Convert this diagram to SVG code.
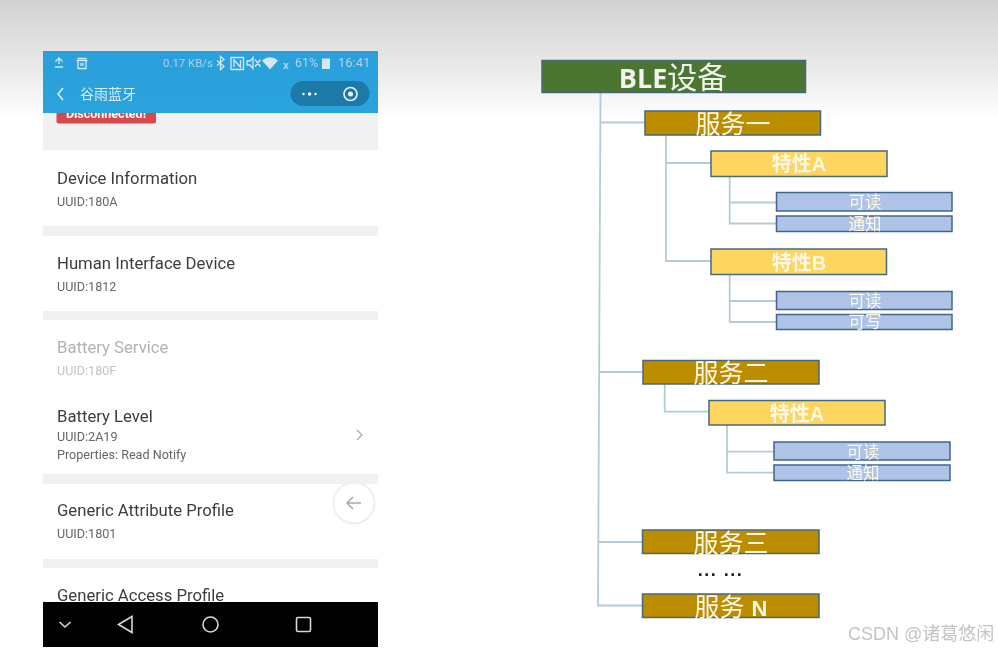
<svg xmlns="http://www.w3.org/2000/svg" width="998" height="651" viewBox="0 0 998 651">
<style>
text{font-family:"Roboto","Noto Sans CJK SC",sans-serif}
.t{font-size:16.7px;fill:#3d3d3d}
.s{font-size:12.6px;fill:#666}
.band{fill:#f1f1f1}
.st{font-size:11.4px;fill:#a9d4ee}
.ic{fill:none;stroke:#d3e8f5;stroke-width:1.3}
.nav{fill:none;stroke:#d8d8d8;stroke-width:1.6}
.c{fill:none;stroke:#b4cbd6;stroke-width:1.8}
.box{stroke:#44697f;stroke-width:1.5}
.root{fill:#4d7430}
.svc{fill:#bd8d00}
.chr{fill:#fdd55f}
.prop{fill:#aec3e6;stroke:#3f6690}
.l{text-anchor:middle;fill:#fdf8e6;font-family:"Liberation Sans","Noto Sans CJK SC",sans-serif}
.l1{font-size:25px}
.l2{font-size:20px;font-weight:bold}
.l3{font-size:16.5px}
</style>
<defs>
<linearGradient id="top" x1="0" y1="0" x2="0" y2="1"><stop offset="0" stop-color="#d2d2d2"/><stop offset="0.55" stop-color="#e9e9e9"/><stop offset="1" stop-color="#ffffff"/></linearGradient>
<linearGradient id="hdr" x1="0" y1="0" x2="0" y2="1"><stop offset="0" stop-color="#2d9fdb"/><stop offset="1" stop-color="#29a3dc"/></linearGradient>
<filter id="soft" x="-2%" y="-2%" width="104%" height="104%"><feGaussianBlur stdDeviation="0.45"/></filter>
</defs>
<rect width="998" height="651" fill="#fff"/>
<rect width="998" height="120" fill="url(#top)"/>
<g id="phone" filter="url(#soft)">
<rect x="43" y="51" width="335" height="596" fill="#fff"/>
<rect class="band" x="43" y="113" width="335" height="37"/>
<rect x="56.500" y="100" width="99.500" height="23.500" rx="2" fill="#d9484c"/>
<text x="106" y="118" text-anchor="middle" font-size="12.500" font-weight="bold" fill="#fff">Disconnected!</text>
<rect x="43" y="51" width="335" height="62" fill="url(#hdr)"/>
<path class="ic" d="M59 58v6M55.500 61.500l3.500-3.500 3.500 3.500M55 67h8" stroke-width="1.600"/>
<path class="ic" d="M77.500 58.500h9M76.500 60.500h11M78 60.500v8h8v-8M81 63v3M83 63v3"/>
<text class="st" x="163" y="67">0.17 KB/s</text>
<path class="ic" d="M217 60.500l7 6-3.500 3v-13l3.500 3-7 6" stroke-width="1.500"/>
<path class="ic" d="M231 57.500h12.500v12h-12.500zM234 67v-7l6.500 7v-7" stroke-width="1.500"/>
<path class="ic" d="M247 61h3l3-3.500v11l-3-3.500h-3zM255 59.500l5.500 7M260.500 59.500l-5.500 7"/>
<path d="M262 60.500q8-6.500 16 0l-8 9z" fill="#d3e8f5"/>
<text class="st" x="283" y="68.500" font-size="13" font-weight="bold">x</text>
<text class="st" x="295" y="67" style="font-size:12.500px">61%</text>
<rect x="322" y="58.500" width="8" height="10.500" fill="#d3e8f5"/>
<text class="st" x="338" y="67" style="font-size:13px">16:41</text>
<path d="M63 88l-5 6 5 6" fill="none" stroke="#e3f1fa" stroke-width="1.500"/>
<text x="80" y="99" font-size="14" fill="#d8edf8">谷雨蓝牙</text>
<rect x="290.500" y="81" width="79" height="25" rx="12.500" fill="#1c79a8"/>
<circle cx="303.500" cy="94" r="1.200" fill="#fff"/><circle cx="309.500" cy="94" r="1.800" fill="#fff"/><circle cx="315.500" cy="94" r="1.200" fill="#fff"/>
<circle cx="350.500" cy="94" r="6.500" fill="none" stroke="#e6f2f8" stroke-width="1.600"/><circle cx="350.500" cy="94" r="2.500" fill="#e6f2f8"/>
<text class="t" x="57" y="183.500">Device Information</text>
<text class="s" x="57" y="206">UUID:180A</text>
<rect class="band" x="43" y="226" width="335" height="10"/>
<text class="t" x="57" y="268.500">Human Interface Device</text>
<text class="s" x="57" y="291">UUID:1812</text>
<rect class="band" x="43" y="311" width="335" height="9"/>
<text class="t" x="57" y="353" style="fill:#b2b2b2">Battery Service</text>
<text class="s" x="57" y="375" style="fill:#c4c4c4">UUID:180F</text>
<text class="t" x="57" y="422">Battery Level</text>
<text class="s" x="57" y="441">UUID:2A19</text>
<text class="s" x="57" y="459">Properties: Read Notify</text>
<path d="M357 430l5 5-5 5" fill="none" stroke="#aaa" stroke-width="1.300"/>
<rect class="band" x="43" y="474" width="335" height="10"/>
<text class="t" x="57" y="516">Generic Attribute Profile</text>
<text class="s" x="57" y="538">UUID:1801</text>
<rect class="band" x="43" y="559" width="335" height="9"/>
<text class="t" x="57" y="600.500">Generic Access Profile</text>
<circle cx="354" cy="503" r="20.500" fill="#fff" stroke="#efefef" stroke-width="2"/>
<path d="M361 503h-14M353 497l-6 6 6 6" fill="none" stroke="#a8a8a8" stroke-width="1.500"/>
<rect x="43" y="602" width="335" height="45" fill="#000"/>
<path class="nav" d="M59.500 622l5.500 5 5.500-5"/>
<path class="nav" d="M132 616.500v16l-13.500-8z"/>
<circle class="nav" cx="210.500" cy="624.500" r="7.500"/>
<rect class="nav" x="296.500" y="617.500" width="14" height="14" rx="1.500"/>
</g>
<g id="connectors" filter="url(#soft)">
<path class="c" d="M600.500 93L598 605.500H643"/>
<path class="c" d="M600.300 122.500H645M599.500 372H643M598.500 542H642"/>
<path class="c" d="M666 135V261H711M666 163H711"/>
<path class="c" d="M729.700 177V223.500H776M729.700 202.500H776"/>
<path class="c" d="M729.700 274V322H776M729.700 301H776"/>
<path class="c" d="M664.700 384V411.700H709"/>
<path class="c" d="M727 425V472.700H774M727 451.700H774"/>
</g>
<g filter="url(#soft)">
<g id="ble"><rect class="box root" x="542" y="60.500" width="263.500" height="32"/><text x="673" y="88" text-anchor="middle" font-size="30" fill="#f0f3ea" style="font-family:'Open Sans','Noto Sans CJK SC',sans-serif"><tspan font-weight="bold" font-size="27">BLE</tspan>设备</text></g>
<g id="svc1"><rect class="box svc" x="645" y="111" width="175.500" height="24"/><text class="l l1" x="733" y="133">服务一</text></g>
<g id="chrA1"><rect class="box chr" x="711" y="151" width="176" height="25.500"/><text class="l l2" x="799" y="171">特性A</text></g>
<g id="read1"><rect class="prop" x="776.500" y="192.500" width="175.500" height="18.500" stroke-width="1.500"/><text class="l l3" x="865" y="207.500">可读</text></g>
<g id="notify1"><rect class="prop" x="776.500" y="216" width="175.500" height="15.500" stroke-width="1.500"/><text class="l l3" x="865" y="229.500">通知</text></g>
<g id="chrB"><rect class="box chr" x="711" y="249" width="175.500" height="25.500"/><text class="l l2" x="799" y="269.500">特性B</text></g>
<g id="read2"><rect class="prop" x="776.500" y="291.500" width="175.500" height="18" stroke-width="1.500"/><text class="l l3" x="865" y="306.500">可读</text></g>
<g id="write"><rect class="prop" x="776.500" y="314.500" width="175.500" height="15" stroke-width="1.500"/><text class="l l3" x="865" y="327.500">可写</text></g>
<g id="svc2"><rect class="box svc" x="643" y="360.500" width="176" height="23.500"/><text class="l l1" x="731" y="382">服务二</text></g>
<g id="chrA2"><rect class="box chr" x="709" y="400.500" width="176" height="24.500"/><text class="l l2" x="797" y="420.500">特性A</text></g>
<g id="read3"><rect class="prop" x="774" y="442" width="176" height="18" stroke-width="1.500"/><text class="l l3" x="863" y="457.500">可读</text></g>
<g id="notify2"><rect class="prop" x="774" y="465" width="176" height="15.500" stroke-width="1.500"/><text class="l l3" x="863" y="478.500">通知</text></g>
<g id="svc3"><rect class="box svc" x="642.500" y="530" width="176.500" height="23.500"/><text class="l l1" x="731" y="552">服务三</text></g>
<text x="720.500" y="575.500" text-anchor="middle" font-size="18" font-weight="bold" letter-spacing="1.500" fill="#222" style="font-family:'Liberation Sans',sans-serif">... ...</text>
<g id="svcN"><rect class="box svc" x="642.500" y="594" width="176.500" height="23.500"/><text class="l l1" x="731" y="615.500">服务 <tspan font-weight="bold" font-size="22">N</tspan></text></g>
<text x="848" y="640" font-size="18" fill="#c4c4c4" style="font-family:'Liberation Sans','Noto Sans CJK SC',sans-serif">CSDN @诸葛悠闲</text>
</g>
</svg>
